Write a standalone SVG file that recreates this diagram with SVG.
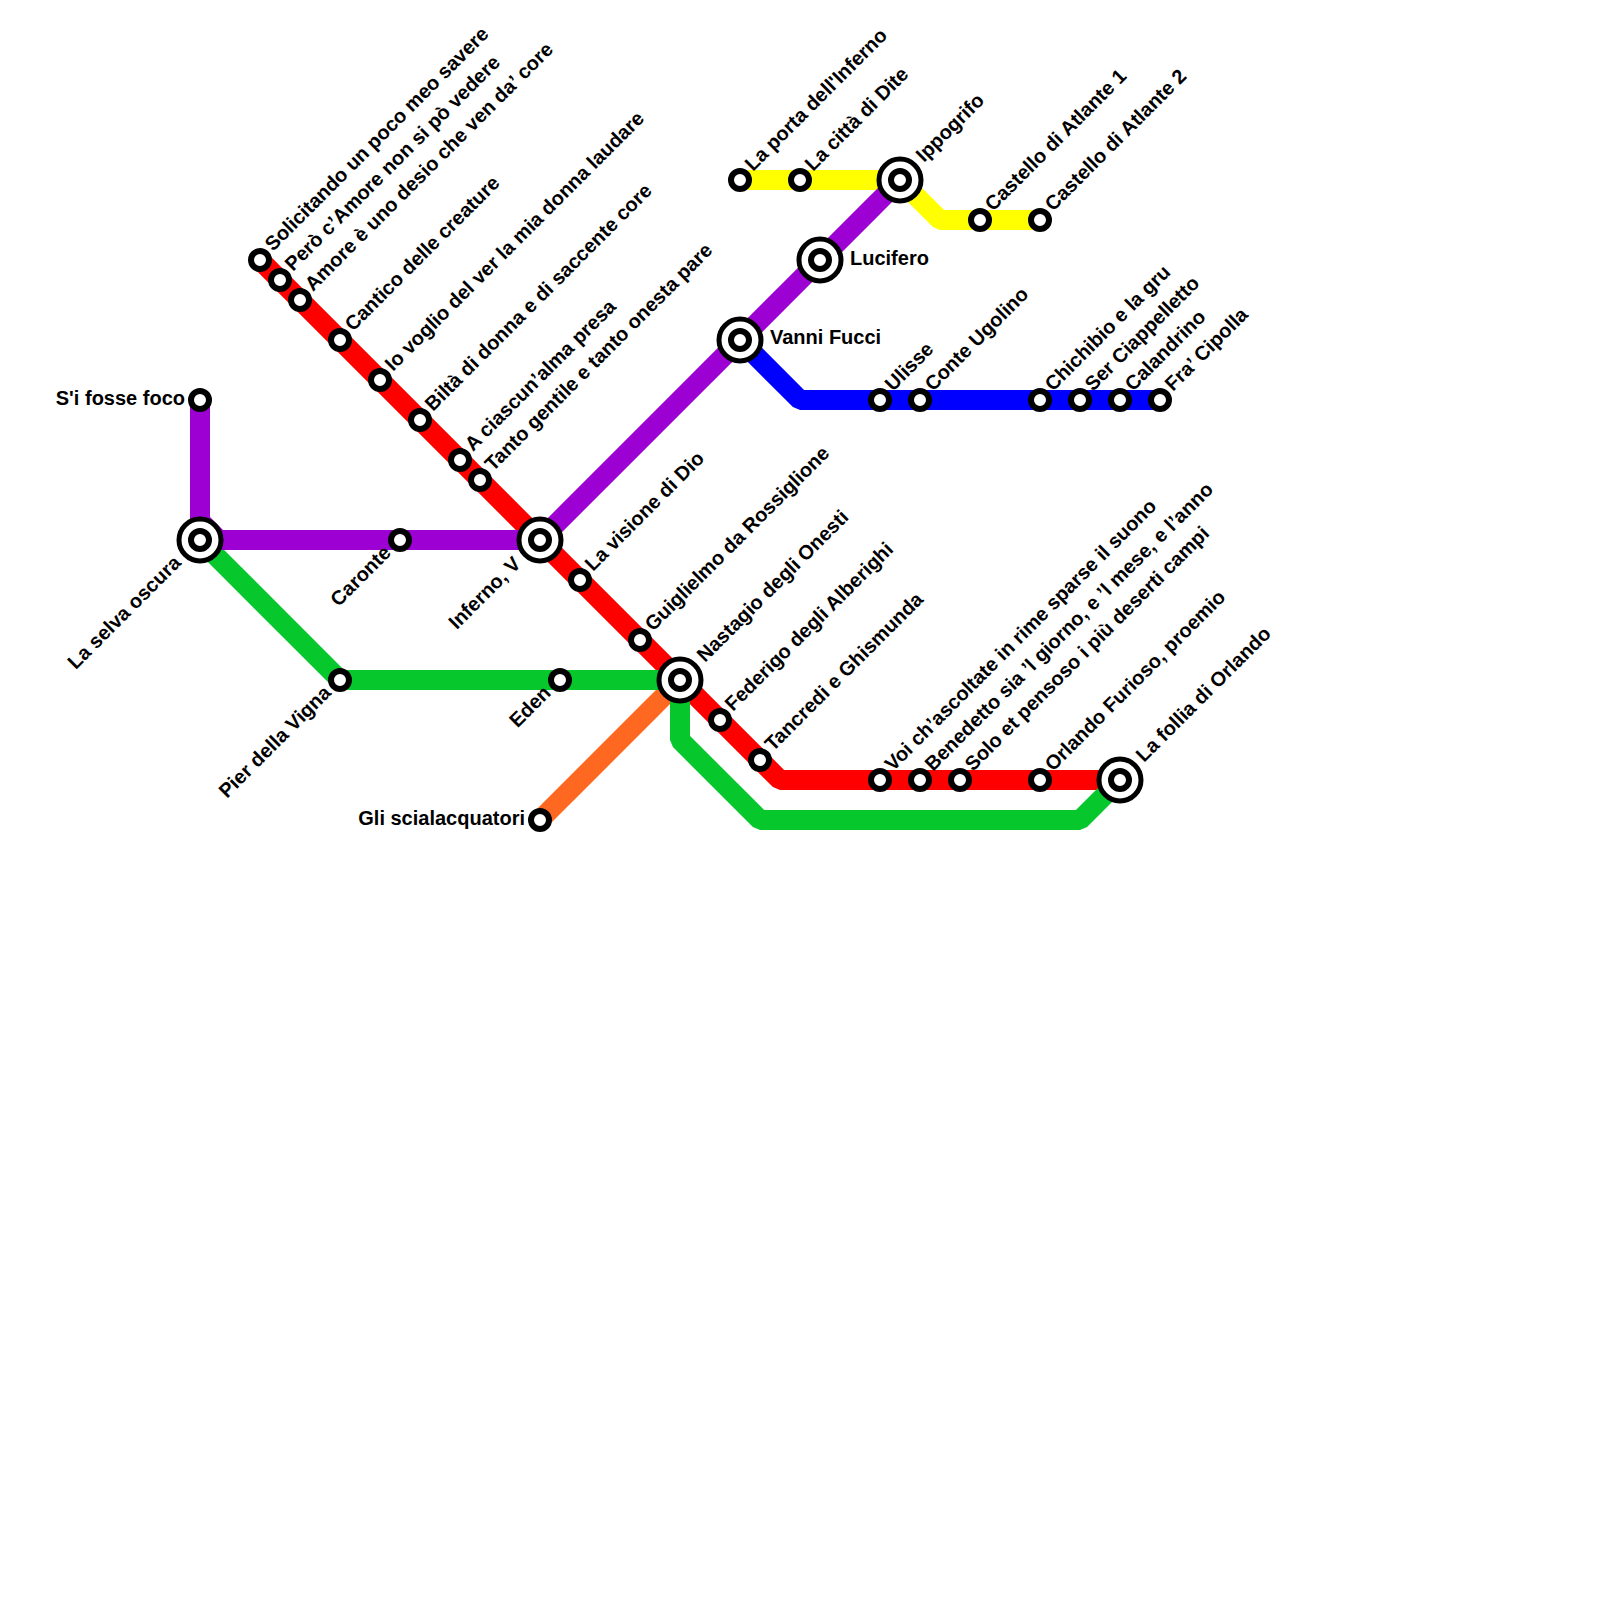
<svg xmlns="http://www.w3.org/2000/svg" width="1600" height="1600" viewBox="0 0 1600 1600">
<style>
.ln{fill:none;stroke-width:20;stroke-linejoin:bevel;stroke-linecap:butt}
.red{stroke:#ff0000}.pur{stroke:#9d00d3}.grn{stroke:#06c72c}.org{stroke:#ff6820}.yel{stroke:#ffff00}.blu{stroke:#0000ff}
.s{fill:#fff;stroke:#000;stroke-width:6}
.o{fill:#fff;stroke:#000;stroke-width:5}
text{font-family:"Liberation Sans",Arial,sans-serif;font-weight:700;font-size:20px;fill:#000}
.e{text-anchor:end}
</style>
<rect width="1600" height="1600" fill="#fff"/>
<g id="connectors">
<polyline class="ln org" points="540,820 680,680"/>
<polyline class="ln red" points="260,260 780,780 1120,780"/>
<polyline class="ln grn" points="200,540 340,680 680,680"/>
<polyline class="ln grn" points="680,680 680,740 760,820 1080,820 1120,780"/>
<polyline class="ln blu" points="740,340 800,400 1160,400"/>
<polyline class="ln yel" points="740,180 900,180 940,220 1040,220"/>
<polyline class="ln pur" points="200,400 200,540 540,540"/>
<polyline class="ln pur" points="540,540 900,180"/>
<polygon fill="#9d00d3" points="210,517 223,530 210,530"/>
</g>
<g id="n-sifosse"><circle class="s" cx="200" cy="400" r="9"/><text class="e" x="185" y="405">S'i fosse foco</text></g>
<g id="n-selva"><circle class="o" cx="200" cy="540" r="21"/><circle class="s" cx="200" cy="540" r="9"/><text class="e" transform="translate(182,564) rotate(-45)">La selva oscura</text></g>
<g id="n-caronte"><circle class="s" cx="400" cy="540" r="9"/><text class="e" transform="translate(392,554) rotate(-45)">Caronte</text></g>
<g id="n-inferno"><circle class="o" cx="540" cy="540" r="21"/><circle class="s" cx="540" cy="540" r="9"/><text class="e" transform="translate(522,565) rotate(-45)">Inferno, V</text></g>
<g id="n-gli"><circle class="s" cx="540" cy="820" r="9"/><text class="e" x="525" y="825">Gli scialacquatori</text></g>
<g id="n-pier"><circle class="s" cx="340" cy="680" r="9"/><text class="e" transform="translate(332,694) rotate(-45)">Pier della Vigna</text></g>
<g id="n-eden"><circle class="s" cx="560" cy="680" r="9"/><text class="e" transform="translate(552,694) rotate(-45)">Eden</text></g>
<g id="n-nastagio"><circle class="o" cx="680" cy="680" r="21"/><circle class="s" cx="680" cy="680" r="9"/><text transform="translate(705,663) rotate(-45)">Nastagio degli Onesti</text></g>
<g id="n-solicitando"><circle class="s" cx="260" cy="260" r="9"/><text transform="translate(273,252) rotate(-45)">Solicitando un poco meo savere</text></g>
<g id="n-pero"><circle class="s" cx="280" cy="280" r="9"/><text transform="translate(293,272) rotate(-45)">Però c’Amore non si pò vedere</text></g>
<g id="n-amore"><circle class="s" cx="300" cy="300" r="9"/><text transform="translate(313,292) rotate(-45)">Amore è uno desio che ven da’ core</text></g>
<g id="n-cantico"><circle class="s" cx="340" cy="340" r="9"/><text transform="translate(353,332) rotate(-45)">Cantico delle creature</text></g>
<g id="n-io"><circle class="s" cx="380" cy="380" r="9"/><text transform="translate(393,372) rotate(-45)">Io voglio del ver la mia donna laudare</text></g>
<g id="n-bilta"><circle class="s" cx="420" cy="420" r="9"/><text transform="translate(433,412) rotate(-45)">Biltà di donna e di saccente core</text></g>
<g id="n-ciascun"><circle class="s" cx="460" cy="460" r="9"/><text transform="translate(473,452) rotate(-45)">A ciascun’alma presa</text></g>
<g id="n-tanto"><circle class="s" cx="480" cy="480" r="9"/><text transform="translate(493,472) rotate(-45)">Tanto gentile e tanto onesta pare</text></g>
<g id="n-visione"><circle class="s" cx="580" cy="580" r="9"/><text transform="translate(593,572) rotate(-45)">La visione di Dio</text></g>
<g id="n-guiglielmo"><circle class="s" cx="640" cy="640" r="9"/><text transform="translate(653,632) rotate(-45)">Guiglielmo da Rossiglione</text></g>
<g id="n-federigo"><circle class="s" cx="720" cy="720" r="9"/><text transform="translate(733,712) rotate(-45)">Federigo degli Alberighi</text></g>
<g id="n-tancredi"><circle class="s" cx="760" cy="760" r="9"/><text transform="translate(773,752) rotate(-45)">Tancredi e Ghismunda</text></g>
<g id="n-voi"><circle class="s" cx="880" cy="780" r="9"/><text transform="translate(893,772) rotate(-45)">Voi ch’ascoltate in rime sparse il suono</text></g>
<g id="n-benedetto"><circle class="s" cx="920" cy="780" r="9"/><text transform="translate(933,772) rotate(-45)">Benedetto sia ’l giorno, e ’l mese, e l’anno</text></g>
<g id="n-solo"><circle class="s" cx="960" cy="780" r="9"/><text transform="translate(973,772) rotate(-45)">Solo et pensoso i più deserti campi</text></g>
<g id="n-orlando"><circle class="s" cx="1040" cy="780" r="9"/><text transform="translate(1053,772) rotate(-45)">Orlando Furioso, proemio</text></g>
<g id="n-follia"><circle class="o" cx="1120" cy="780" r="21"/><circle class="s" cx="1120" cy="780" r="9"/><text transform="translate(1144,763) rotate(-45)">La follia di Orlando</text></g>
<g id="n-porta"><circle class="s" cx="740" cy="180" r="9"/><text transform="translate(753,172) rotate(-45)">La porta dell'Inferno</text></g>
<g id="n-dite"><circle class="s" cx="800" cy="180" r="9"/><text transform="translate(813,172) rotate(-45)">La città di Dite</text></g>
<g id="n-ippogrifo"><circle class="o" cx="900" cy="180" r="21"/><circle class="s" cx="900" cy="180" r="9"/><text transform="translate(924,163) rotate(-45)">Ippogrifo</text></g>
<g id="n-atlante1"><circle class="s" cx="980" cy="220" r="9"/><text transform="translate(993,212) rotate(-45)">Castello di Atlante 1</text></g>
<g id="n-atlante2"><circle class="s" cx="1040" cy="220" r="9"/><text transform="translate(1053,212) rotate(-45)">Castello di Atlante 2</text></g>
<g id="n-lucifero"><circle class="o" cx="820" cy="260" r="21"/><circle class="s" cx="820" cy="260" r="9"/><text x="850" y="265">Lucifero</text></g>
<g id="n-vanni"><circle class="o" cx="740" cy="340" r="21"/><circle class="s" cx="740" cy="340" r="9"/><text x="770" y="344">Vanni Fucci</text></g>
<g id="n-ulisse"><circle class="s" cx="880" cy="400" r="9"/><text transform="translate(893,392) rotate(-45)">Ulisse</text></g>
<g id="n-conte"><circle class="s" cx="920" cy="400" r="9"/><text transform="translate(933,392) rotate(-45)">Conte Ugolino</text></g>
<g id="n-chichibio"><circle class="s" cx="1040" cy="400" r="9"/><text transform="translate(1053,392) rotate(-45)">Chichibio e la gru</text></g>
<g id="n-ser"><circle class="s" cx="1080" cy="400" r="9"/><text transform="translate(1093,392) rotate(-45)">Ser Ciappelletto</text></g>
<g id="n-calandrino"><circle class="s" cx="1120" cy="400" r="9"/><text transform="translate(1133,392) rotate(-45)">Calandrino</text></g>
<g id="n-fra"><circle class="s" cx="1160" cy="400" r="9"/><text transform="translate(1173,392) rotate(-45)">Fra’ Cipolla</text></g>
</svg>
